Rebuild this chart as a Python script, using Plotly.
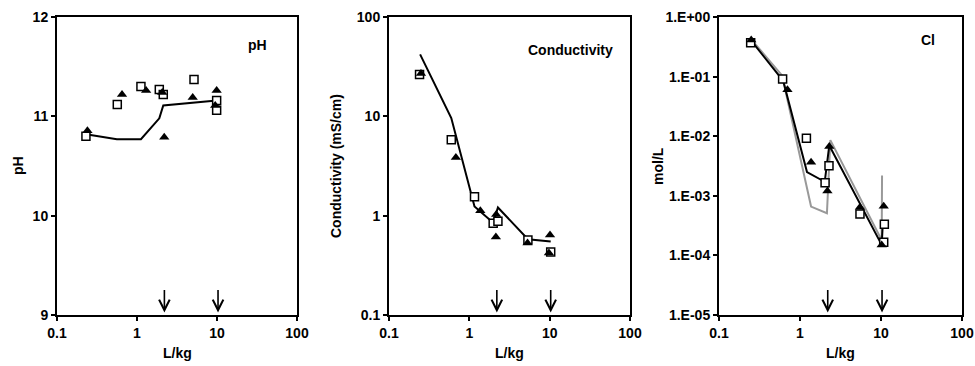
import math
import plotly.graph_objects as go

# ---------------- data ----------------
x_ticks = [0.1, 1, 10, 100]
x_ticktext = ["0.1", "1", "10", "100"]

ph_ticks = [9, 10, 11, 12]
ph_ticktext = ["9", "10", "11", "12"]
cond_ticks = [0.1, 1, 10, 100]
cond_ticktext = ["0.1", "1", "10", "100"]
cl_ticks = [1e-5, 1e-4, 1e-3, 1e-2, 1e-1, 1]
cl_ticktext = ["1.E-05", "1.E-04", "1.E-03", "1.E-02", "1.E-01", "1.E+00"]

# pH
ph_sq_x = [0.23, 0.567, 1.12, 1.9, 2.13, 5.16, 9.9, 9.9]
ph_sq_y = [10.80, 11.12, 11.30, 11.27, 11.22, 11.37, 11.16, 11.06]
ph_tri_x = [0.24, 0.65, 1.30, 2.07, 2.19, 4.97, 9.9, 9.5]
ph_tri_y = [10.855, 11.22, 11.26, 11.24, 10.79, 11.19, 11.26, 11.11]
ph_mod_x = [0.23, 0.56, 1.12, 1.9, 2.13, 5.1, 9.9]
ph_mod_y = [10.82, 10.77, 10.77, 10.98, 11.11, 11.14, 11.16]

# Conductivity (mS/cm)
cond_sq_x = [0.24, 0.596, 1.16, 1.98, 2.27, 5.36, 10.3]
cond_sq_y = [26.3, 5.8, 1.55, 0.84, 0.88, 0.57, 0.43]
cond_tri_x = [0.25, 0.68, 1.37, 2.16, 2.14, 5.3, 10.1, 9.8]
cond_tri_y = [27.0, 3.85, 1.12, 1.03, 0.61, 0.53, 0.64, 0.42]
cond_mod_x = [0.244, 0.596, 1.16, 1.98, 2.27, 5.36, 10.3]
cond_mod_y = [42.0, 9.6, 1.24, 0.85, 1.21, 0.58, 0.55]

# Cl (mol/L)
cl_sq_x = [0.246, 0.61, 1.2, 2.04, 2.28, 5.5, 10.8, 11.0]
cl_sq_y = [0.37, 0.091, 0.0092, 0.00166, 0.0032, 0.000495, 0.000166, 0.000333]
cl_tri_x = [0.25, 0.70, 1.37, 2.18, 2.3, 5.5, 10.8, 10.2]
cl_tri_y = [0.41, 0.060, 0.00365, 0.0012, 0.0067, 0.00064, 0.00067, 0.000149]
cl_mod1_x = [0.25, 0.62, 1.22, 2.02, 2.3, 10.2, 10.5]
cl_mod1_y = [0.40, 0.085, 0.0025, 0.00172, 0.0070, 0.000150, 0.00032]
cl_mod2_x = [0.25, 0.6, 1.37, 2.15, 2.37, 10.2, 10.3]
cl_mod2_y = [0.42, 0.105, 0.00066, 0.00051, 0.0086, 0.00018, 0.0022]

arrow_x = [2.2, 10.3]

# ---------------- styling ----------------
FONT = "Liberation Sans, Arial, sans-serif"
W, H = 975, 366
px_dom = [(57, 297), (389, 630), (719, 962)]
y_dom = [(H - 315) / H, (H - 17) / H]

fig = go.Figure()

tri_marker = dict(symbol="triangle-up", size=9, color="black", line=dict(width=0))
sq_marker = dict(symbol="square", size=8, color="white", line=dict(width=1.5, color="black"))


def add_panel(i, lines, sq, tri):
    xa = "x" if i == 1 else f"x{i}"
    ya = "y" if i == 1 else f"y{i}"
    for (lx, ly, col) in lines:
        fig.add_trace(go.Scatter(x=lx, y=ly, mode="lines", line=dict(color=col, width=2),
                                 xaxis=xa, yaxis=ya, showlegend=False, hoverinfo="skip"))
    fig.add_trace(go.Scatter(x=sq[0], y=sq[1], mode="markers", marker=sq_marker,
                             xaxis=xa, yaxis=ya, showlegend=False))
    fig.add_trace(go.Scatter(x=tri[0], y=tri[1], mode="markers", marker=tri_marker,
                             xaxis=xa, yaxis=ya, showlegend=False))


add_panel(1, [(ph_mod_x, ph_mod_y, "black")], (ph_sq_x, ph_sq_y), (ph_tri_x, ph_tri_y))
add_panel(2, [(cond_mod_x, cond_mod_y, "black")], (cond_sq_x, cond_sq_y), (cond_tri_x, cond_tri_y))
add_panel(3, [(cl_mod2_x, cl_mod2_y, "#999999"), (cl_mod1_x, cl_mod1_y, "black")],
          (cl_sq_x, cl_sq_y), (cl_tri_x, cl_tri_y))

tickfont = dict(family=FONT, size=14, color="black", weight="bold")
axis_common = dict(showline=True, linecolor="black", linewidth=2, mirror=True,
                   ticks="outside", ticklen=4, tickwidth=1.5, tickcolor="black",
                   showgrid=False, zeroline=False, tickfont=tickfont, automargin=False)

layout = dict(width=W, height=H, margin=dict(l=0, r=0, t=0, b=0, pad=0),
              template="none",
              paper_bgcolor="white", plot_bgcolor="white", showlegend=False)

y_specs = [
    dict(type="linear", range=[9, 12], tickvals=ph_ticks, ticktext=ph_ticktext),
    dict(type="log", range=[-1, 2], tickvals=cond_ticks, ticktext=cond_ticktext),
    dict(type="log", range=[-5, 0], tickvals=cl_ticks, ticktext=cl_ticktext),
]
for i in range(3):
    k = "" if i == 0 else str(i + 1)
    layout[f"xaxis{k}"] = dict(axis_common, type="log", range=[-1, 2], tickvals=x_ticks,
                               ticktext=x_ticktext,
                               domain=[px_dom[i][0] / W, px_dom[i][1] / W],
                               anchor=f"y{k}")
    layout[f"yaxis{k}"] = dict(axis_common, **y_specs[i], domain=list(y_dom),
                               anchor=f"x{k}")

fig.update_layout(**layout)

ann_font = dict(family=FONT, size=14, color="black", weight="bold")
annotations = []
# x titles
for i in range(3):
    annotations.append(dict(text="L/kg", x=(px_dom[i][0] + px_dom[i][1]) / 2 / W,
                            y=(H - 353) / H, xref="paper", yref="paper",
                            showarrow=False, font=ann_font, xanchor="center", yanchor="middle"))
# y titles
for xc, t in [(18, "pH"), (336, "Conductivity (mS/cm)"), (658, "mol/L")]:
    annotations.append(dict(text=t, x=xc / W, y=(H - 166) / H, xref="paper", yref="paper",
                            textangle=-90, showarrow=False, font=ann_font,
                            xanchor="center", yanchor="middle"))
# panel labels
for xc, yc, t in [(257, 45, "pH"), (570, 50, "Conductivity"), (928, 40, "Cl")]:
    annotations.append(dict(text=t, x=xc / W, y=(H - yc) / H, xref="paper", yref="paper",
                            showarrow=False, font=ann_font, xanchor="center", yanchor="middle"))
# arrows (annotation x on a log axis is given in log10 units)
for i in range(3):
    k = "" if i == 0 else str(i + 1)
    for ax_val in arrow_x:
        annotations.append(dict(x=math.log10(ax_val), y=y_dom[0] + 2.5 / H,
                                xref=f"x{k}", yref="paper",
                                text="", showarrow=True, arrowhead=5, arrowsize=1.3,
                                arrowwidth=1.6, arrowcolor="black", ax=0, ay=-24,
                                standoff=0))
fig.update_layout(annotations=annotations)

fig.write_html("out.html")
